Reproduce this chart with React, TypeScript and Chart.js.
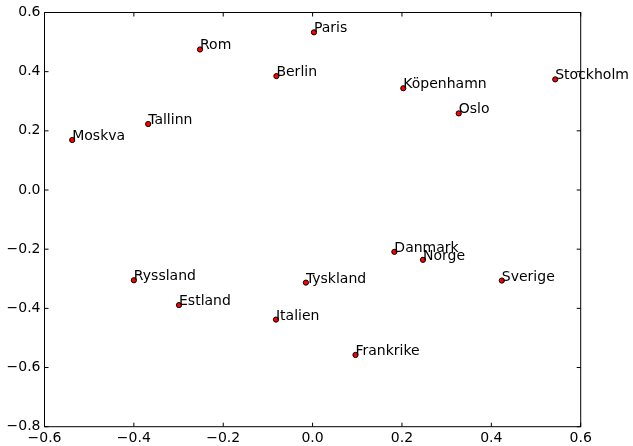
import React, { useEffect, useRef } from "react";
import { Chart, registerables } from "chart.js";

Chart.register(...registerables);

const cities: string[] = [
  "Moskva", "Tallinn", "Rom", "Paris", "Berlin", "Köpenhamn", "Oslo", "Stockholm",
  "Ryssland", "Estland", "Italien", "Tyskland", "Danmark", "Norge", "Sverige", "Frankrike",
];
const xValues: number[] = [
  -0.538, -0.368, -0.252, 0.003, -0.081, 0.203, 0.327, 0.543,
  -0.400, -0.299, -0.082, -0.015, 0.183, 0.247, 0.4235, 0.096,
];
const yValues: number[] = [
  0.169, 0.223, 0.475, 0.533, 0.385, 0.344, 0.259, 0.374,
  -0.305, -0.389, -0.438, -0.313, -0.209, -0.236, -0.306, -0.5575,
];
const xTicks: number[] = [-0.6, -0.4, -0.2, 0.0, 0.2, 0.4, 0.6];
const yTicks: number[] = [-0.8, -0.6, -0.4, -0.2, 0.0, 0.2, 0.4, 0.6];

const FONT = "'DejaVu Sans', sans-serif";

const fmt = (v: number) => {
  const s = (Math.abs(v) < 1e-9 ? 0 : v).toFixed(1);
  return s.replace("-", "\u2212");
};

const framePlugin = {
  id: "frameAndLabels",
  afterDatasetsDraw(chart: any) {
    const { ctx, chartArea, scales } = chart;
    const { left, right, top, bottom } = chartArea;
    ctx.save();
    // labels
    ctx.fillStyle = "#000";
    ctx.font = `14px ${FONT}`;
    ctx.textAlign = "left";
    ctx.textBaseline = "alphabetic";
    cities.forEach((c, i) => {
      const px = scales.x.getPixelForValue(xValues[i]);
      const py = scales.y.getPixelForValue(yValues[i]);
      ctx.fillText(c, px, py);
    });
    // frame
    ctx.strokeStyle = "#000";
    ctx.lineWidth = 1;
    ctx.strokeRect(left, top, right - left, bottom - top);
    // inward ticks
    const tl = 4;
    ctx.beginPath();
    xTicks.forEach((t) => {
      const px = scales.x.getPixelForValue(t);
      ctx.moveTo(px, bottom);
      ctx.lineTo(px, bottom - tl);
      ctx.moveTo(px, top);
      ctx.lineTo(px, top + tl);
    });
    yTicks.forEach((t) => {
      const py = scales.y.getPixelForValue(t);
      ctx.moveTo(left, py);
      ctx.lineTo(left + tl, py);
      ctx.moveTo(right, py);
      ctx.lineTo(right - tl, py);
    });
    ctx.stroke();
    ctx.restore();
  },
};

export default function App() {
  const ref = useRef<HTMLCanvasElement | null>(null);
  useEffect(() => {
    if (!ref.current) return;
    const data = cities.map((_, i) => ({ x: xValues[i], y: yValues[i] }));
    const chart = new Chart(ref.current, {
      type: "scatter",
      data: {
        datasets: [
          {
            data,
            backgroundColor: "#ff0000",
            borderColor: "#000000",
            borderWidth: 1,
            pointRadius: 2.6,
            pointHoverRadius: 2.6,
          },
        ],
      },
      options: {
        animation: false,
        responsive: false,
        events: [],
        layout: { padding: { top: 12.5, right: 52.3, left: 0, bottom: 0 } },
        plugins: { legend: { display: false }, tooltip: { enabled: false } },
        scales: {
          x: {
            type: "linear",
            min: -0.6,
            max: 0.6,
            afterBuildTicks: (s: any) => {
              s.ticks = xTicks.map((v) => ({ value: v }));
            },
            afterFit: (s: any) => {
              s.height = 19.3;
            },
            grid: { display: false, drawTicks: false },
            border: { display: false },
            ticks: {
              color: "#000",
              font: { family: FONT, size: 14 },
              padding: 3,
              maxRotation: 0,
              autoSkip: false,
              callback: (v: any) => fmt(Number(v)),
            },
          },
          y: {
            type: "linear",
            min: -0.8,
            max: 0.6,
            afterBuildTicks: (s: any) => {
              s.ticks = yTicks.map((v) => ({ value: v }));
            },
            afterFit: (s: any) => {
              s.width = 44.5;
            },
            grid: { display: false, drawTicks: false },
            border: { display: false },
            ticks: {
              color: "#000",
              font: { family: FONT, size: 14 },
              padding: 4,
              autoSkip: false,
              callback: (v: any) => fmt(Number(v)),
            },
          },
        },
      },
      plugins: [framePlugin],
    });
    return () => chart.destroy();
  }, []);
  return (
    <div style={{ position: "fixed", left: 0, top: 0, width: 633, height: 446, background: "#fff" }}>
      <canvas ref={ref} width={633} height={446} style={{ width: 633, height: 446, display: "block" }} />
    </div>
  );
}
